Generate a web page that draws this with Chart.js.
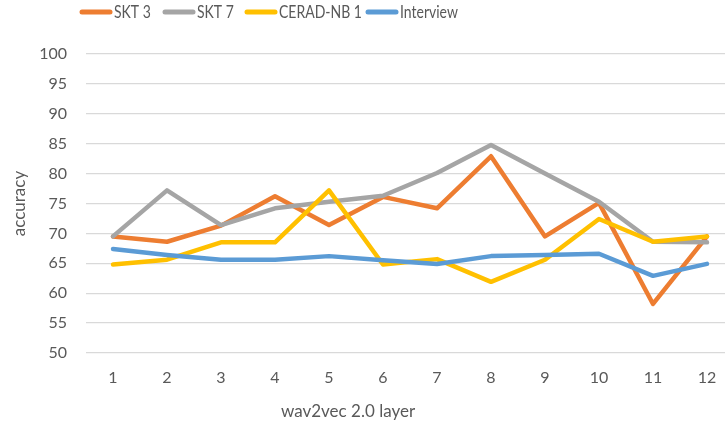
<!DOCTYPE html>
<html>
<head>
<meta charset="utf-8">
<script src="https://cdn.jsdelivr.net/npm/chart.js@4/dist/chart.umd.min.js"></script>
<style>
  html, body { margin: 0; padding: 0; background: #fff; overflow: hidden; }
  canvas { display: block; }
</style>
</head>
<body>
<canvas id="myChart" width="734" height="424"></canvas>
<script>
const layers = ['1', '2', '3', '4', '5', '6', '7', '8', '9', '10', '11', '12'];
const skt3 = [69.5, 68.6, 71.3, 76.2, 71.4, 76.1, 74.2, 82.9, 69.5, 75.1, 58.2, 69.5];
const skt7 = [69.5, 77.2, 71.4, 74.2, 75.3, 76.3, 80.1, 84.8, 80.0, 75.3, 68.6, 68.5];
const ceradNb1 = [64.8, 65.6, 68.5, 68.5, 77.2, 64.8, 65.7, 61.9, 65.6, 72.4, 68.6, 69.5];
const interview = [67.4, 66.4, 65.6, 65.6, 66.2, 65.5, 64.9, 66.2, 66.4, 66.6, 62.9, 64.9];
const yMin = 50, yMax = 100, yStep = 5;
const xTitle = 'wav2vec 2.0 layer';
const yTitle = 'accuracy';

const textColor = '#595959';
const fontFamily = 'Lato, "Open Sans", sans-serif';

function series(label, values, color, order) {
    return {
        label: label,
        data: values,
        borderColor: color,
        backgroundColor: color,
        borderWidth: 4.5,
        borderJoinStyle: 'round',
        borderCapStyle: 'round',
        pointRadius: 0,
        pointHoverRadius: 0,
        tension: 0,
        order: order
    }
}

// legend + x title drawn by hand so they can sit where the original put them
const legendStarts = [80, 163, 245, 366];
const legendSquash = 0.8; // original font is narrower than Lato
const customText = {
    id: 'customText',
    afterDraw(chart) {
        const ctx = chart.ctx;
        ctx.save();
        chart.data.datasets.forEach((ds, i) => {
            const x = legendStarts[i];
            ctx.strokeStyle = ds.borderColor;
            ctx.lineWidth = 5;
            ctx.lineCap = 'round';
            ctx.beginPath();
            ctx.moveTo(x + 2, 12);
            ctx.lineTo(x + 30, 12);
            ctx.stroke();

            ctx.save();
            ctx.translate(x + 34, 12);
            ctx.scale(legendSquash, 1);
            ctx.font = '17.5px ' + fontFamily;
            ctx.textBaseline = 'middle';
            ctx.textAlign = 'left';
            ctx.fillStyle = textColor;
            ctx.fillText(ds.label, 0, 0);
            ctx.restore();
        });
        ctx.textAlign = 'center';
        ctx.textBaseline = 'middle';
        ctx.fillStyle = textColor;
        ctx.font = '17px ' + fontFamily;
        ctx.fillText(xTitle, 348, 412);
        ctx.restore();
    }
};

const ctx = document.getElementById('myChart');
new Chart(ctx, {
    type: 'line',
    data: {
        labels: layers,
        datasets: [
            series('SKT 3', skt3, '#ED7D31', 3),
            series('SKT 7', skt7, '#A5A5A5', 2),
            series('CERAD-NB 1', ceradNb1, '#FFC000', 1),
            series('Interview', interview, '#5B9BD5', 0)
        ]
    },
    options: {
        responsive: false,
        animation: false,
        layout: {
            padding: {top: 54, right: 0, bottom: 0, left: 0}
        },
        plugins: {
            legend: {display: false},
            tooltip: {enabled: false}
        },
        scales: {
            x: {
                offset: true,
                grid: {display: false, drawTicks: false},
                border: {display: false},
                ticks: {
                    color: textColor,
                    font: {family: fontFamily, size: 16},
                    padding: 15,
                    maxRotation: 0
                },
                afterFit: (scale) => { scale.height = 71; }
            },
            y: {
                min: yMin,
                max: yMax,
                grid: {color: '#D9D9D9', lineWidth: 1.3, drawTicks: false},
                border: {display: false},
                ticks: {
                    stepSize: yStep,
                    color: textColor,
                    font: {family: fontFamily, size: 16},
                    padding: 19
                },
                title: {
                    display: true,
                    text: yTitle,
                    color: textColor,
                    font: {family: fontFamily, size: 17},
                    padding: {top: 9, bottom: 0}
                },
                afterFit: (scale) => { scale.width = 86; }
            }
        }
    },
    plugins: [customText]
});
</script>
</body>
</html>
